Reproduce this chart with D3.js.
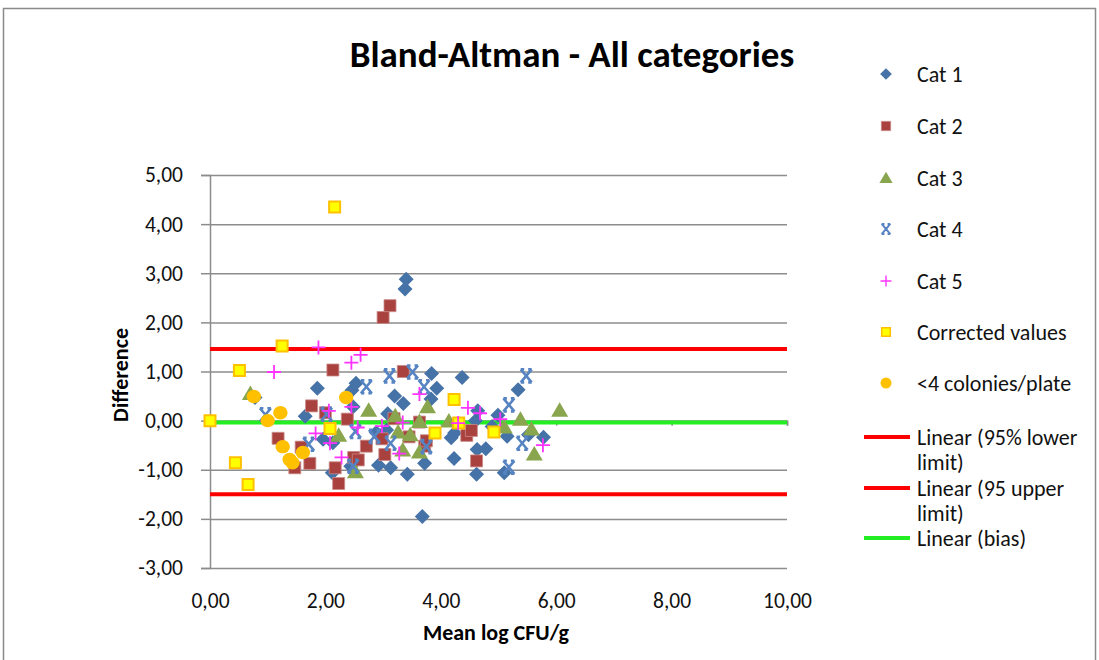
<!DOCTYPE html>
<html><head><meta charset="utf-8">
<script src="https://cdn.jsdelivr.net/npm/d3@7"></script>
<style>
html,body{margin:0;padding:0;background:#fff;}
svg{display:block;font-family:Carlito,Lato,"Open Sans",sans-serif;}
</style></head>
<body><svg id="c" width="1099" height="660"></svg>
<script>
// ---- data ----
const cat1 = [[0.78,0.47],[1.65,0.09],[1.86,0.66],[1.96,-0.38],[2.12,-1.06],[2.13,-0.45],[2.46,0.62],[2.53,0.76],[2.48,0.28],[2.44,-0.93],[2.88,-0.24],[2.94,-0.31],[2.92,-0.91],[3.06,-0.19],[3.08,0.14],[3.13,-0.96],[3.20,0.50],[3.35,0.35],[3.38,2.68],[3.40,2.88],[3.42,-1.09],[3.72,-0.87],[3.68,-1.95],[3.84,0.96],[3.93,0.66],[3.83,0.44],[4.18,-0.35],[4.24,-0.25],[4.23,-0.77],[4.37,0.88],[4.60,0.00],[4.64,0.20],[4.63,-0.59],[4.78,-0.57],[4.62,-1.09],[4.89,-0.12],[4.99,0.11],[5.15,-0.32],[5.10,-1.06],[5.34,0.63],[5.52,-0.29],[5.78,-0.34]];
const cat2 = [[1.18,-0.36],[1.47,-0.96],[1.58,-0.54],[1.73,-0.87],[1.76,0.30],[2.00,0.16],[2.13,1.03],[2.17,-0.96],[2.23,-1.28],[2.38,0.03],[2.49,-0.75],[2.57,-0.80],[2.71,-0.52],[2.98,-0.37],[3.00,2.10],[3.03,-0.69],[3.12,2.34],[3.19,0.04],[3.35,1.00],[3.45,-0.33],[3.63,-0.03],[3.72,-0.52],[3.75,-0.41],[4.45,-0.30],[4.53,-0.20],[4.62,-0.82]];
const cat3 = [[0.70,0.55],[2.23,-0.30],[2.52,-1.04],[2.75,0.21],[3.21,0.10],[3.26,-0.23],[3.34,-0.60],[3.47,-0.29],[3.63,-0.02],[3.63,-0.64],[3.77,0.28],[4.14,-0.01],[5.10,-0.13],[5.38,0.03],[5.57,-0.17],[5.62,-0.68],[6.06,0.21]];
const cat4 = [[0.96,0.12],[1.71,-0.48],[2.02,0.13],[2.48,-0.93],[2.52,-0.22],[2.71,0.69],[2.85,-0.32],[3.11,0.91],[3.13,-0.46],[3.51,0.99],[3.71,0.69],[3.75,-0.53],[5.18,0.32],[5.18,-0.95],[5.41,-0.46],[5.48,0.91]];
const cat5 = [[1.11,0.99],[1.83,-0.26],[1.88,1.49],[2.06,0.20],[2.08,-0.46],[2.28,-0.75],[2.45,1.18],[2.45,0.28],[2.56,-0.14],[2.61,1.34],[2.98,-0.11],[3.28,-0.67],[3.34,-0.04],[3.63,0.54],[4.30,-0.05],[4.47,0.26],[4.68,0.15],[5.03,0.03],[5.77,-0.50]];
const corrected = [[0.00,0.00],[0.44,-0.86],[0.51,1.02],[0.66,-1.30],[1.25,1.52],[2.08,-0.16],[2.16,4.35],[3.90,-0.25],[4.23,0.43],[4.31,-0.05],[4.92,-0.23]];
const fewColonies = [[0.76,0.49],[1.00,0.00],[1.22,0.16],[1.26,-0.53],[1.38,-0.79],[1.43,-0.86],[1.61,-0.65],[2.36,0.47]];
const upperLimit = 1.46, lowerLimit = -1.50, bias = -0.04;
const xTicks = [0,2,4,6,8,10];
const yTicks = [-3,-2,-1,0,1,2,3,4,5];
const seriesNames = ["Cat 1","Cat 2","Cat 3","Cat 4","Cat 5","Corrected values","<4 colonies/plate"];
const lineNames = [["Linear (95% lower","limit)"],["Linear (95 upper","limit)"],["Linear (bias)"]];

// ---- chart ----
const svg = d3.select("#c");
const fmt = d => d3.format(".2f")(d).replace(".", ",").replace("\u2212", "-");
const x = d3.scaleLinear().domain([0,10]).range([210,787]);
const y = d3.scaleLinear().domain([-3,5]).range([568,175]);
const FONT = "Carlito,Lato,sans-serif";

svg.append("rect").attr("x",3.5).attr("y",8.5).attr("width",1092).attr("height",660)
  .attr("fill","none").attr("stroke","#8a8a8a").attr("stroke-width",1.5);

// gridlines
const grid = svg.append("g").attr("transform","translate(210,0)")
  .call(d3.axisLeft(y).tickValues(yTicks).tickSize(-577).tickFormat(""));
grid.select(".domain").remove();
grid.selectAll("line").attr("stroke","#8c8c8c").attr("stroke-width",1.5);

// left axis
const ya = svg.append("g").attr("transform","translate(210,0)")
  .call(d3.axisLeft(y).tickValues(yTicks).tickSize(9).tickPadding(18).tickFormat(fmt));
ya.select(".domain").attr("stroke","#8c8c8c").attr("stroke-width",1.5);
ya.selectAll("line").attr("stroke","#8c8c8c").attr("stroke-width",1.5);
ya.selectAll("text").attr("font-size",21.5).attr("fill","#111").attr("font-family",FONT);

// x axis line at 0
const xa = svg.append("g").attr("transform",`translate(0,${y(0)})`)
  .call(d3.axisBottom(x).tickValues(xTicks).tickSize(5).tickFormat(""));
xa.select(".domain").attr("stroke","#8c8c8c").attr("stroke-width",1.5);
xa.selectAll("line").attr("stroke","#8c8c8c").attr("stroke-width",1.5);
// x labels low
const xl = svg.append("g").attr("transform",`translate(0,${y(-3)})`)
  .call(d3.axisBottom(x).tickValues(xTicks).tickSize(0).tickPadding(25).tickFormat(fmt));
xl.select(".domain").remove();
xl.selectAll("text").attr("font-size",21.5).attr("fill","#111").attr("font-family",FONT);

// reference lines
const refs = [[upperLimit,"#ff0000"],[lowerLimit,"#ff0000"],[bias,"#22ee22"]];
svg.append("g").selectAll("line").data(refs).join("line")
  .attr("x1",x(0)).attr("x2",x(10)).attr("y1",d=>y(d[0])).attr("y2",d=>y(d[0]))
  .attr("stroke",d=>d[1]).attr("stroke-width",4);

// marker shapes
const shapes = {
  diamond: "M0,-7.5L7.5,0L0,7.5L-7.5,0Z",
  square: "M-6,-6H6V6H-6Z",
  tri: "M0,-8L8.5,6.5L-8.5,6.5Z",
  x: "M-5.5,-6.5L5.5,6.5M5.5,-6.5L-5.5,6.5M-5.5,-6.5H-2M2,-6.5H5.5M-5.5,6.5H-2M2,6.5H5.5",
  plus: "M-7,0H7M0,-7V7",
  ysq: "M-5.5,-5.5H5.5V5.5H-5.5Z"
};
const styles = [
  {d:shapes.diamond, fill:"#4572A7", stroke:"none", sw:0},
  {d:shapes.square, fill:"#A9423F", stroke:"#c98a88", sw:0.8},
  {d:shapes.tri, fill:"#89A54E", stroke:"none", sw:0},
  {d:shapes.x, fill:"none", stroke:"#5683c2", sw:2.6},
  {d:shapes.plus, fill:"none", stroke:"#ff33ff", sw:1.8},
  {d:shapes.ysq, fill:"#ffff00", stroke:"#ffc000", sw:2},
  {circle:true, fill:"#ffc000"}
];
const allSeries = [cat1,cat2,cat3,cat4,corrected,cat5,fewColonies];
const styleIdx = [0,1,2,3,5,4,6];
allSeries.forEach((data,i)=>{
  const st = styles[styleIdx[i]];
  const g = svg.append("g");
  if (st.circle) {
    g.selectAll("ellipse").data(data).join("ellipse")
      .attr("cx",d=>x(d[0])).attr("cy",d=>y(d[1])).attr("rx",7.2).attr("ry",6.7).attr("fill",st.fill);
  } else {
    g.selectAll("path").data(data).join("path")
      .attr("transform",d=>`translate(${x(d[0])},${y(d[1])})`)
      .attr("d",st.d).attr("fill",st.fill).attr("stroke",st.stroke).attr("stroke-width",st.sw);
  }
});

// title
svg.append("text").attr("x",572).attr("y",67).attr("text-anchor","middle")
  .attr("font-size",37).attr("font-weight","bold").attr("fill","#000").text("Bland-Altman - All categories");
// axis titles
svg.append("text").attr("transform","translate(128,375) rotate(-90)").attr("text-anchor","middle")
  .attr("font-size",22).attr("font-weight","bold").attr("fill","#000").text("Difference");
svg.append("text").attr("x",496).attr("y",640).attr("text-anchor","middle")
  .attr("font-size",22).attr("font-weight","bold").attr("fill","#000").text("Mean log CFU/g");

// legend
const legY = [74,126,178,229,281,332,383];
const lg = svg.append("g");
seriesNames.forEach((n,i)=>{
  const st = styles[i];
  if (st.circle) {
    lg.append("circle").attr("cx",886).attr("cy",legY[i]).attr("r",5.5).attr("fill",st.fill);
  } else {
    lg.append("path").attr("transform",`translate(886,${legY[i]}) scale(0.78)`)
      .attr("d",st.d).attr("fill",st.fill).attr("stroke",st.stroke).attr("stroke-width",st.sw);
  }
  lg.append("text").attr("x",917).attr("y",legY[i]+8).attr("font-size",22).attr("fill","#111").text(n);
});
const lineY = [437,488,538];
const lineCol = ["#ff0000","#ff0000","#22ee22"];
lineNames.forEach((ls,i)=>{
  lg.append("line").attr("x1",864).attr("x2",910).attr("y1",lineY[i]).attr("y2",lineY[i])
    .attr("stroke",lineCol[i]).attr("stroke-width",4);
  ls.forEach((t,j)=>{
    lg.append("text").attr("x",917).attr("y",lineY[i]+8+j*25).attr("font-size",22).attr("fill","#111").text(t);
  });
});
</script></body></html>
